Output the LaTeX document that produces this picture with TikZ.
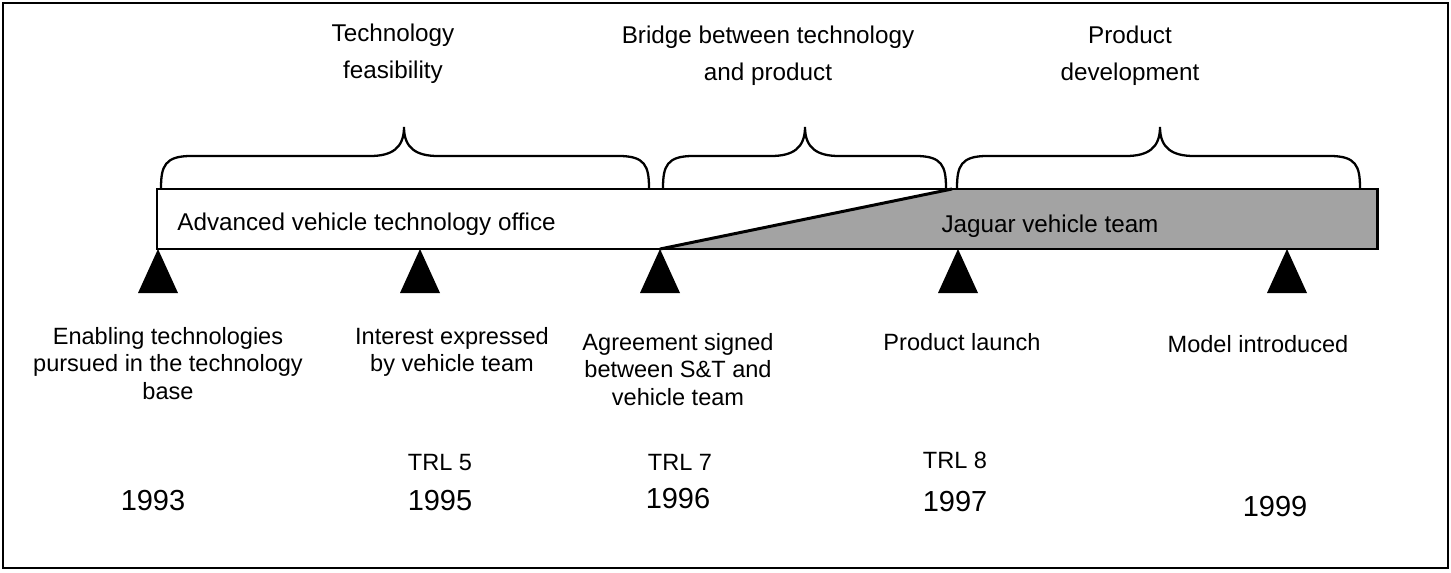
\documentclass[tikz,border=0pt]{standalone}
\usepackage{fontspec}
\setmainfont{Liberation Sans}
\usepackage{tikz}
\definecolor{teamgray}{gray}{0.64}

\begin{document}
\begin{tikzpicture}[x=0.02cm,y=-0.02cm]
		\useasboundingbox (0,0) rectangle (1451,572);
		\tikzstyle{frame}=[line width=1pt]
		\tikzstyle{barline}=[line width=1.7pt,line join=miter]
		\tikzstyle{bracepath}=[line width=1.3pt]
		\tikzstyle{titletext}=[font=\fontsize{13.8pt}{21pt}\selectfont,align=center,inner sep=0pt]
		\tikzstyle{eventtext}=[font=\fontsize{13.4pt}{15.6pt}\selectfont,align=center,inner sep=0pt]
		\tikzstyle{bartext}=[font=\fontsize{13.8pt}{16pt}\selectfont,inner sep=0pt]
		\tikzstyle{yeartext}=[font=\fontsize{16.5pt}{19pt}\selectfont,inner sep=0pt]
		\draw[frame] (3,3) rectangle (1448,568);
		% the bar and its milestones
		\coordinate (bar_nw) at (157,189);
		\coordinate (bar_ne) at (1377,189);
		\coordinate (bar_se) at (1377,249);
		\coordinate (d_top) at (952,189);
		\coordinate (m_1) at (158,249);
		\coordinate (m_2) at (420,249);
		\coordinate (m_3) at (660,249);
		\coordinate (m_4) at (958,249);
		\coordinate (m_5) at (1287,249);
		\fill[teamgray] (m_3) -- (d_top) -- (bar_ne) -- (bar_se) -- cycle;
		\draw[barline] (m_3) -- (d_top);
		\draw[barline] (bar_nw) rectangle (bar_se);
		\foreach \i in {1,...,5}{
			\fill (m_\i) -- ++(-20,44) -- ++(40,0) -- cycle;
		}
		% braces over the phases
		\foreach \l/\t/\r in {161/404/649, 663/805/946, 957/1160/1360}{
			\draw[bracepath] (\l,188) .. controls (\l,166) and (\l+4,156) .. (\l+30,156)
				-- (\t-34,156) .. controls (\t-12,156) and (\t,148) .. (\t,127)
				.. controls (\t,148) and (\t+12,156) .. (\t+34,156)
				-- (\r-30,156) .. controls (\r-4,156) and (\r,166) .. (\r,188);
		}
		\node[titletext,anchor=north] (ph_1) at (393,24) {Technology\\feasibility};
		\node[titletext,anchor=north] (ph_2) at (768,26) {Bridge between technology\\and product};
		\node[titletext,anchor=north] (ph_3) at (1130,26) {Product\\development};
		\node[bartext,anchor=base west] (office) at (177,230) {Advanced vehicle technology office};
		\node[bartext,anchor=base] (team) at (1050,232) {Jaguar vehicle team};
		\node[eventtext,anchor=north] (ev_1) at (168,327) {Enabling technologies\\pursued in the technology\\base};
		\node[eventtext,anchor=north] (ev_2) at (452,327) {Interest expressed\\by vehicle team};
		\node[eventtext,anchor=north] (ev_3) at (678,333) {Agreement signed\\between S\&T and\\vehicle team};
		\node[eventtext,anchor=north] (ev_4) at (962,333) {Product launch};
		\node[eventtext,anchor=north] (ev_5) at (1258,335) {Model introduced};
		\node[eventtext,anchor=base] (trl_5) at (440,470) {TRL 5};
		\node[eventtext,anchor=base] (trl_7) at (680,470) {TRL 7};
		\node[eventtext,anchor=base] (trl_8) at (955,468) {TRL 8};
		\node[yeartext,anchor=base] (yr_1) at (153,510) {1993};
		\node[yeartext,anchor=base] (yr_2) at (440,510) {1995};
		\node[yeartext,anchor=base] (yr_3) at (678,508) {1996};
		\node[yeartext,anchor=base] (yr_4) at (955,511) {1997};
		\node[yeartext,anchor=base] (yr_5) at (1275,516) {1999};
	\end{tikzpicture}
\end{document}
